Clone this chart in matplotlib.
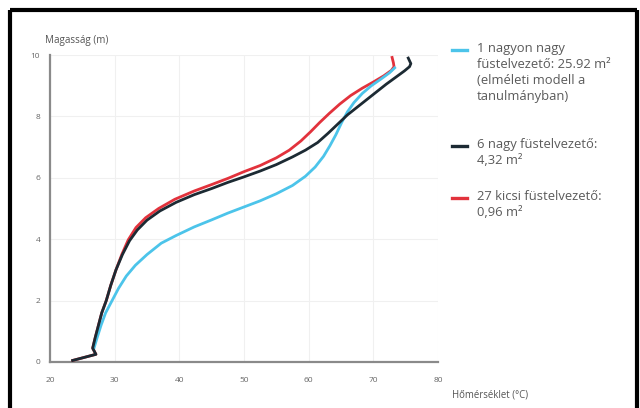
#!/usr/bin/env python3
# -*- coding: utf-8 -*-
"""Hőmérséklet-magasság profilok három füstelvezető-elrendezésre."""

import matplotlib
matplotlib.use("Agg")
import matplotlib.pyplot as plt
from matplotlib.lines import Line2D

plt.rcParams["font.family"] = ["Open Sans", "DejaVu Sans"]

# === DATA ===
cyan_x = [26.8, 27.3, 27.9, 28.6, 29.6, 30.6, 31.8, 33.2, 35.0, 37.2, 39.5,
          42.3, 45.0, 47.5, 50.0, 52.5, 55.0, 57.5, 59.5, 61.0, 62.3, 63.3,
          64.2, 65.1, 66.0, 67.0, 68.3, 69.7, 71.2, 72.5, 73.3]
cyan_y = [0.45, 0.8, 1.2, 1.6, 2.0, 2.4, 2.8, 3.15, 3.5, 3.87, 4.12,
          4.4, 4.63, 4.85, 5.05, 5.25, 5.48, 5.75, 6.05, 6.35, 6.7, 7.05,
          7.4, 7.8, 8.15, 8.45, 8.75, 9.0, 9.22, 9.42, 9.58]

black_x = [23.5, 27.1, 26.6, 27.0, 27.5, 28.0, 28.7, 29.4, 30.2, 31.2, 32.3,
           33.5, 35.0, 37.0, 39.5, 42.3, 45.0, 47.5, 50.0, 52.5, 55.0, 57.5,
           59.5, 61.4, 63.0, 64.5, 66.0, 67.5, 69.0, 70.5, 72.0, 73.5, 74.8,
           75.6, 75.8, 75.4]
black_y = [0.05, 0.25, 0.45, 0.8, 1.2, 1.6, 2.0, 2.5, 3.0, 3.5, 3.95,
           4.3, 4.62, 4.92, 5.2, 5.45, 5.65, 5.85, 6.03, 6.22, 6.43, 6.68,
           6.9, 7.15, 7.45, 7.75, 8.05, 8.3, 8.55, 8.8, 9.05, 9.28, 9.48,
           9.62, 9.72, 9.9]

red_x = [23.5, 27.1, 26.6, 27.0, 27.5, 28.0, 28.7, 29.4, 30.2, 31.1, 32.1,
         33.3, 34.8, 36.8, 39.3, 42.3, 45.0, 47.5, 50.0, 52.5, 55.0, 57.0,
         58.8, 60.3, 61.7, 63.2, 64.8, 66.5, 68.3, 70.0, 71.6, 72.8, 73.2,
         73.1, 72.9]
red_y = [0.05, 0.25, 0.45, 0.8, 1.2, 1.6, 2.0, 2.5, 3.0, 3.5, 3.98,
         4.38, 4.7, 5.0, 5.3, 5.57, 5.78, 5.98, 6.2, 6.4, 6.65, 6.9,
         7.2, 7.5, 7.8, 8.1, 8.4, 8.68, 8.92, 9.12, 9.32, 9.5, 9.62,
         9.75, 9.92]

labels = [
    "1 nagyon nagy\nfüstelvezető: 25.92 m²\n(elméleti modell a\ntanulmányban)",
    "6 nagy füstelvezető:\n4,32 m²",
    "27 kicsi füstelvezető:\n0,96 m²",
]
x_ticks = [20, 30, 40, 50, 60, 70, 80]
y_ticks = [0, 2, 4, 6, 8, 10]

COLORS = {"cyan": "#4cc4ea", "black": "#1c2a33", "red": "#e2323c"}

fig = plt.figure(figsize=(6.4, 4.08), dpi=100)
W, H = 640.0, 408.0
ax = fig.add_axes([50 / W, 46 / H, 388 / W, 307 / H])

lw = 2.0
ax.plot(red_x, red_y, color=COLORS["red"], lw=lw, solid_joinstyle="round", zorder=3)
ax.plot(cyan_x, cyan_y, color=COLORS["cyan"], lw=lw, solid_joinstyle="round", zorder=4)
ax.plot(black_x, black_y, color=COLORS["black"], lw=lw, solid_joinstyle="round", zorder=5)

ax.set_xlim(20, 80)
ax.set_ylim(0, 10)
ax.set_xticks(x_ticks)
ax.set_yticks(y_ticks)
ax.grid(True, color="#f0f0f0", lw=0.8)
ax.set_axisbelow(True)
for side in ("top", "right"):
    ax.spines[side].set_visible(False)
for side in ("left", "bottom"):
    ax.spines[side].set_color("#8a8a8a")
    ax.spines[side].set_linewidth(1.6)
ax.tick_params(axis="both", length=0, labelsize=6, labelcolor="#666666")
ax.tick_params(axis="x", pad=11)
ax.tick_params(axis="y", pad=7)

fig.text(45 / W, 1 - 41 / H, "Magasság (m)", fontsize=7.1, color="#555555",
         ha="left", va="center")
fig.text(452 / W, 1 - 395 / H, "Hőmérséklet (°C)", fontsize=6.9, color="#555555",
         ha="left", va="center")

# legend drawn by hand: handle beside the first line of each label
legend_rows = [50, 146, 198]  # pixel row of each entry's first line
for key, label, row in zip(("cyan", "black", "red"), labels, legend_rows):
    fig.add_artist(Line2D([452 / W, 467 / W], [1 - row / H, 1 - row / H],
                          color=COLORS[key], lw=2.4, transform=fig.transFigure))
    fig.text(477 / W, 1 - (row - 8) / H, label, fontsize=9.4, color="#5a5a5a",
             ha="left", va="top", linespacing=1.3)

# black frame around the picture (top, left, right)
frame_kw = dict(color="black", lw=3, transform=fig.transFigure, solid_capstyle="butt")
fig.add_artist(Line2D([10 / W, 637 / W], [1 - 10 / H, 1 - 10 / H], **frame_kw))
fig.add_artist(Line2D([10 / W, 10 / W], [0, 1 - 10 / H], **frame_kw))
fig.add_artist(Line2D([637 / W, 637 / W], [0, 1 - 10 / H], **frame_kw))

fig.savefig("out.png", dpi=100, facecolor="white")
